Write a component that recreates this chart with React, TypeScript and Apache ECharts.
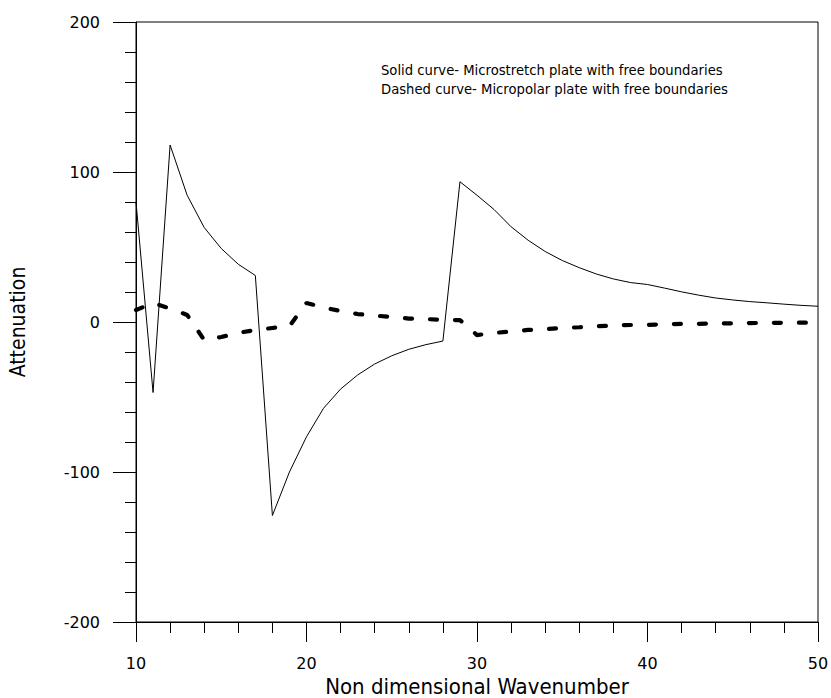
import React, { useEffect, useRef } from "react";
import * as echarts from "echarts";

// Non dimensional wavenumber samples
const waveNumbers = [
  10, 11, 12, 13, 14, 15, 16, 17, 18, 19,
  20, 21, 22, 23, 24, 25, 26, 27, 28, 29,
  30, 31, 32, 33, 34, 35, 36, 37, 38, 39,
  40, 41, 42, 43, 44, 45, 46, 47, 48, 49, 50,
];

// Attenuation, microstretch plate with free boundaries (solid)
const microstretch = [
  80, -47, 118, 84.5, 63, 49, 38.5, 31, -129, -100,
  -76.5, -57.5, -44.7, -35.3, -28, -22.5, -18.2, -15.1, -12.7, 93.5,
  84.5, 75, 63.5, 54.5, 47, 41, 36.2, 32, 28.7, 26.3,
  25, 22.6, 20.1, 17.9, 16, 14.7, 13.6, 12.8, 11.9, 11.1, 10.5,
];

// Attenuation, micropolar plate with free boundaries (dashed)
const micropolar = [
  8, 12.7, 9, 4.7, -12, -10, -7.3, -5.3, -4, -2.7,
  12.7, 9.7, 7.3, 5.3, 4.3, 3.3, 2.3, 2, 1.3, 1.3,
  -8.7, -7.3, -6.3, -5.3, -4.7, -4, -3.5, -2.9, -2.3, -2,
  -1.9, -1.5, -1.3, -1.2, -1, -0.9, -0.7, -0.6, -0.5, -0.45, -0.4,
];

const noteLines = [
  "Solid curve- Microstretch plate with free boundaries",
  "Dashed curve- Micropolar plate with free boundaries",
];

const xTitle = "Non dimensional Wavenumber";
const yTitle = "Attenuation";

const condensed = "'DejaVu Sans Condensed', 'DejaVu Sans', sans-serif";
const plain = "'DejaVu Sans', Verdana, sans-serif";

export default function App() {
  const ref = useRef<HTMLDivElement>(null);

  useEffect(() => {
    if (!ref.current) return;
    const chart = echarts.init(ref.current, undefined, { renderer: "svg" });
    const pairs = (ys: number[]) => waveNumbers.map((x, i) => [x, ys[i]]);

    chart.setOption({
      animation: false,
      backgroundColor: "#fff",
      grid: {
        left: 136,
        right: 13,
        top: 22,
        bottom: 76,
        containLabel: false,
        outerBoundsMode: "none",
        show: true,
        borderColor: "#000",
        borderWidth: 1,
      },
      xAxis: {
        type: "value",
        min: 10,
        max: 50,
        interval: 10,
        name: xTitle,
        nameLocation: "middle",
        nameGap: 50,
        nameTextStyle: {
          color: "#000",
          fontSize: 22,
          lineHeight: 20,
          fontFamily: condensed,
        },
        axisLine: { show: true, onZero: false, lineStyle: { color: "#000", width: 1 } },
        axisTick: { show: true, inside: false, length: 20, lineStyle: { color: "#000" } },
        minorTick: { show: true, splitNumber: 5, length: 11, lineStyle: { color: "#000" } },
        splitLine: { show: false },
        axisLabel: { color: "#000", fontSize: 16, fontFamily: plain, margin: 33 },
      },
      yAxis: {
        type: "value",
        min: -200,
        max: 200,
        interval: 100,
        name: yTitle,
        nameLocation: "middle",
        nameGap: 108,
        nameRotate: 90,
        nameTextStyle: { color: "#000", fontSize: 21, fontFamily: condensed },
        axisLine: { show: true, onZero: false, lineStyle: { color: "#000", width: 1 } },
        axisTick: { show: true, inside: false, length: 23, lineStyle: { color: "#000" } },
        minorTick: { show: true, splitNumber: 5, length: 11, lineStyle: { color: "#000" } },
        splitLine: { show: false },
        axisLabel: { color: "#000", fontSize: 16, fontFamily: plain, margin: 36 },
      },
      graphic: noteLines.map((t, i) => ({
        type: "text",
        left: 381,
        top: 64 + i * 19,
        style: { text: t, fill: "#000", fontSize: 13.2, fontFamily: plain },
      })),
      series: [
        {
          type: "line",
          name: "Microstretch",
          data: pairs(microstretch),
          showSymbol: false,
          symbol: "none",
          lineStyle: { color: "#000", width: 1 },
        },
        {
          type: "line",
          name: "Micropolar",
          data: pairs(micropolar),
          showSymbol: false,
          symbol: "none",
          lineStyle: { color: "#000", width: 4.2, type: [7, 18], cap: "round" },
        },
      ],
    });

    return () => chart.dispose();
  }, []);

  return (
    <div
      ref={ref}
      style={{ position: "absolute", left: 0, top: 0, width: 831, height: 698 }}
    />
  );
}
